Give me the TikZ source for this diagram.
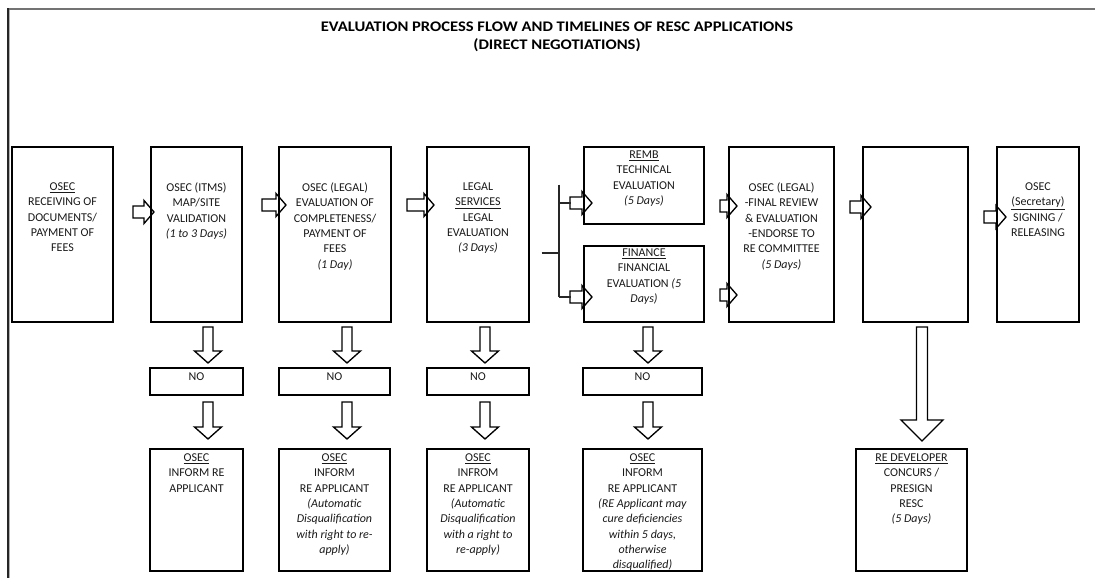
\documentclass[tikz,border=0pt]{standalone}
\usepackage{fontspec}
\setmainfont{Carlito}
\newfontfamily\titlefont[FakeStretch=1.13]{Carlito}
\usetikzlibrary{fit,calc}

% right-pointing block arrow: tip x, tip y, total length
\newcommand\rblock[3]{%
  \draw[blk] (#1,#2) -- ++(-10,-11.5) -- ++(0,5.5) -- ++(-#3+10,0) -- ++(0,12)
    -- ++(#3-10,0) -- ++(0,5.5) -- cycle;}
% down-pointing block arrow: centre x, tip y, length, head length, shaft half, head half
\newcommand\dblock[6]{%
  \draw[blk] (#1,#2) -- ++(-#6,-#4) -- ++(#6-#5,0) -- ++(0,-#3+#4) -- ++(2*#5,0)
    -- ++(0,#3-#4) -- ++(#6-#5,0) -- cycle;}

\begin{document}
\begin{tikzpicture}[x=0.75pt,y=-0.75pt,
  box/.style={draw=black,line width=0.9pt,inner sep=0pt},
  txt/.style={anchor=north,inner sep=0pt,align=center,text=black!90,
    font=\fontsize{9}{11.5}\selectfont},
  blk/.style={draw=black,line width=1pt,fill=white,line join=miter},
  link/.style={draw=black!85,line width=0.8pt}]
\useasboundingbox (0,0) rectangle (1095,578);

% page frame
\draw[black!55,line width=1.6pt] (8,8.7) -- (1095,8.7);
\draw[black!85,line width=1.1pt] (8,8) -- (8,578);
\draw[black!30,line width=0.6pt] (9.6,9.5) -- (9.6,578);

% title
\node[align=center,inner sep=0pt,font=\titlefont\fontsize{11}{13.5}\selectfont\bfseries] (title) at (557,37)
  {EVALUATION PROCESS FLOW AND TIMELINES OF RESC APPLICATIONS\\(DIRECT NEGOTIATIONS)};

% block arrows between the steps
\rblock{154}{212}{21}
\rblock{286}{205}{24}
\rblock{434}{205}{27}
\rblock{592}{203}{22}
\rblock{592}{297}{22}
\rblock{737}{206}{17}
\rblock{737}{295}{17}
\rblock{871}{207}{21}
\rblock{1006}{217}{22}

% block arrows down to the NO boxes and the notices
\foreach \cx in {208,347,485,648}{
  \dblock{\cx}{363}{36}{12}{5}{13.5}
  \dblock{\cx}{439}{37}{12}{5}{13.5}
}
\dblock{922}{441}{114}{21}{5.5}{21}

% main steps
\node[box,fit={(12,147) (113,322)}] (b1) {};
\node[box,fit={(151,147) (242,322)}] (b2) {};
\node[box,fit={(279,147) (391,322)}] (b3) {};
\node[box,fit={(427,147) (529,322)}] (b4) {};
\node[box,fit={(584,147) (704,224)}] (b5) {};
\node[box,fit={(584,246) (704,322)}] (b6) {};
\node[box,fit={(729,147) (834,322)}] (b7) {};
\node[box,fit={(863,147) (968,322)}] (b8) {};
\node[box,fit={(997,147) (1079,322)}] (b9) {};

\node[txt] (t1) at (62.5,182.5) {\underline{OSEC}\\RECEIVING OF\\DOCUMENTS/\\PAYMENT OF\\FEES};
\node[txt] (t2) at (196.5,182.5) {OSEC (ITMS)\\MAP/SITE\\VALIDATION\\\textit{(1 to 3 Days)}};
\node[txt] (t3) at (335,182.5) {OSEC (LEGAL)\\EVALUATION OF\\COMPLETENESS/\\PAYMENT OF\\FEES\\\textit{(1 Day)}};
\node[txt] (t4) at (478,182.5) {LEGAL\\\underline{SERVICES}\\LEGAL\\EVALUATION\\\textit{(3 Days)}};
\node[txt] (t5) at (644,150.5) {\underline{REMB}\\TECHNICAL\\EVALUATION\\\textit{(5 Days)}};
\node[txt] (t6) at (644,248.5) {\underline{FINANCE}\\FINANCIAL\\EVALUATION \textit{(5}\\\textit{Days)}};
\node[txt] (t7) at (781.5,182.5) {OSEC (LEGAL)\\-FINAL REVIEW\\\& EVALUATION\\-ENDORSE TO\\RE COMMITTEE\\\textit{(5 Days)}};
\node[txt] (t9) at (1038,182.5) {OSEC\\\underline{(Secretary)}\\SIGNING /\\RELEASING};

% split from legal evaluation to the two parallel evaluations
\coordinate (split) at (559,253);
\draw[link] ([xshift=9pt]b4.east |- split) -- (split);
\draw[link] (split |- b5.west) ++(0,-1) coordinate (sa) (sa) -- (sa |- 0,297);
\draw[link] (559,203) -- (571,203);
\draw[link] (559,297) -- (571,297);

% NO boxes
\node[box,fit={(150,368) (243,395)}] (n1) {};
\node[box,fit={(279,368) (390,395)}] (n2) {};
\node[box,fit={(427,368) (529,395)}] (n3) {};
\node[box,fit={(583,368) (702,395)}] (n4) {};
\foreach \n/\cx in {n1/196.5,n2/334.5,n3/478,n4/642.5}
  \node[txt] (\n t) at (\cx,372.5) {NO};

% notices
\node[box,fit={(150,449) (243,571)}] (c1) {};
\node[box,fit={(279,449) (390,571)}] (c2) {};
\node[box,fit={(427,449) (529,571)}] (c3) {};
\node[box,fit={(583,449) (702,571)}] (c4) {};
\node[box,fit={(856,449) (967,571)}] (c5) {};

\node[txt] (u1) at (196.5,453.5) {\underline{OSEC}\\INFORM RE\\APPLICANT};
\node[txt] (u2) at (334.5,453.5) {\underline{OSEC}\\INFORM\\RE APPLICANT\\\textit{(Automatic}\\\textit{Disqualification}\\\textit{with right to re-}\\\textit{apply)}};
\node[txt] (u3) at (478,453.5) {\underline{OSEC}\\INFROM\\RE APPLICANT\\\textit{(Automatic}\\\textit{Disqualification}\\\textit{with a right to}\\\textit{re-apply)}};
\node[txt] (u4) at (642.5,453.5) {\underline{OSEC}\\INFORM\\RE APPLICANT\\\textit{(RE Applicant may}\\\textit{cure deficiencies}\\\textit{within 5 days,}\\\textit{otherwise}\\\textit{disqualified)}};
\node[txt] (u5) at (911.5,453.5) {\underline{RE DEVELOPER}\\CONCURS /\\PRESIGN\\RESC\\\textit{(5 Days)}};
\end{tikzpicture}
\end{document}
